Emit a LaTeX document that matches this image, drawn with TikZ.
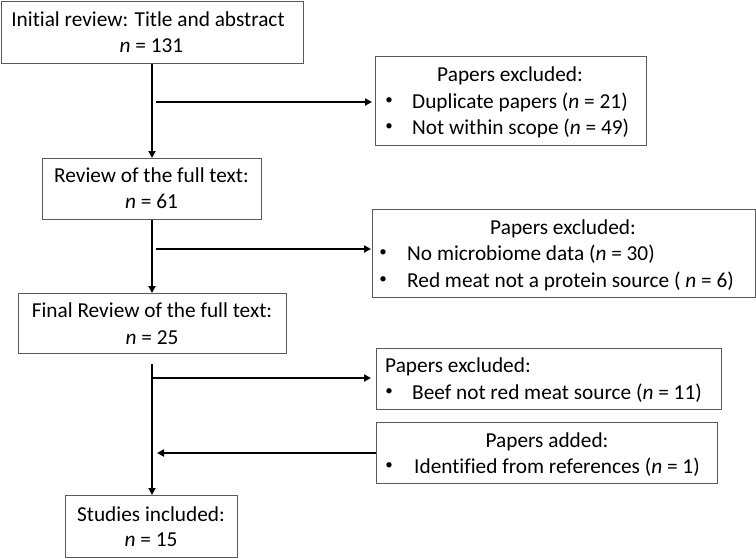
\documentclass[tikz,border=0pt]{standalone}
\usepackage{fontspec}
\setmainfont{Carlito}[Ligatures={NoCommon}]
\usetikzlibrary{arrows.meta,calc}
\begin{document}
\begin{tikzpicture}[x=1pt,y=-1pt,
  box/.style={draw=black!65,line width=0.9pt,inner sep=0pt,anchor=north west},
  txt/.style={inner sep=0pt,anchor=base,font=\fontsize{21.3}{25}\selectfont},
  ltxt/.style={txt,anchor=base west},
  bul/.style={inner sep=0pt,anchor=center,font=\fontsize{15}{18}\selectfont},
  conn/.style={line width=1.8pt,-{Triangle[length=7pt,width=7pt]}}]
\useasboundingbox (0,0) rectangle (756,558);
% main boxes
\node[box,minimum width=302.5pt,minimum height=62.5pt] (b1) at (0.5,0.5) {};
\node[txt] (b1t1) at (148,26) {Initial review: Title and abstract};
\node[txt] (b1t2) at (151.5,52) {\textit{n} = 131};
\node[box,minimum width=219pt,minimum height=61pt] (b2) at (42,158) {};
\node[txt] (b2t1) at (151.5,182) {Review of the full text:};
\node[txt] (b2t2) at (151.5,208) {\textit{n} = 61};
\node[box,minimum width=268pt,minimum height=60pt] (b3) at (18,293) {};
\node[txt] (b3t1) at (152,317) {Final Review of the full text:};
\node[txt] (b3t2) at (152,344) {\textit{n} = 25};
\node[box,minimum width=172pt,minimum height=62pt] (b4) at (65,495) {};
\node[txt] (b4t1) at (151,521) {Studies included:};
\node[txt] (b4t2) at (151,546) {\textit{n} = 15};
% side box A
\node[box,minimum width=271pt,minimum height=89pt] (ba) at (375,56) {};
\node[txt] (bah) at (510,81) {Papers excluded:};
\node[bul] (bab1) at (389,101) {•};
\node[ltxt] (bat1) at (412,108) {Duplicate papers (\textit{n} = 21)};
\node[bul] (bab2) at (389,127) {•};
\node[ltxt] (bat2) at (412,134) {Not within scope (\textit{n} = 49)};
% side box B
\node[box,minimum width=383pt,minimum height=88pt] (bb) at (372,209) {};
\node[txt] (bbh) at (563,234) {Papers excluded:};
\node[bul] (bbb1) at (383,253) {•};
\node[ltxt] (bbt1) at (407,260) {No microbiome data (\textit{n} = 30)};
\node[bul] (bbb2) at (383,280) {•};
\node[ltxt] (bbt2) at (407,287) {Red meat not a protein source ( \textit{n} = 6)};
% side box C
\node[box,minimum width=345pt,minimum height=61pt] (bc) at (376,348) {};
\node[ltxt] (bch) at (385,372) {Papers excluded:};
\node[bul] (bcb1) at (389,392) {•};
\node[ltxt] (bct1) at (412,399) {Beef not red meat source (\textit{n} = 11)};
% side box D
\node[box,minimum width=341pt,minimum height=61pt] (bd) at (376,422) {};
\node[txt] (bdh) at (547,447) {Papers added:};
\node[bul] (bdb1) at (389,466) {•};
\node[ltxt] (bdt1) at (414,473) {Identified from references (\textit{n} = 1)};
% connectors
\coordinate (s1) at (152,63.5);
\coordinate (s2) at (152,219.5);
\coordinate (s3) at (152,364);
\coordinate (c1) at (156,102);
\coordinate (c2) at (156,249);
\coordinate (c3) at (152,378);
\coordinate (c4) at (157,453);
\draw[conn] (s1) -- (s1 |- b2.north);
\draw[conn] (s2) -- (s2 |- b3.north);
\draw[conn] (s3) -- (s3 |- b4.north);
\draw[conn,shorten >=3pt] (c1) -- (c1 -| ba.west);
\draw[conn,shorten >=1pt] (c2) -- (c2 -| bb.west);
\draw[conn,shorten >=5pt] (c3) -- (c3 -| bc.west);
\draw[conn] (c4 -| bd.west) -- (c4);
\end{tikzpicture}
\end{document}
